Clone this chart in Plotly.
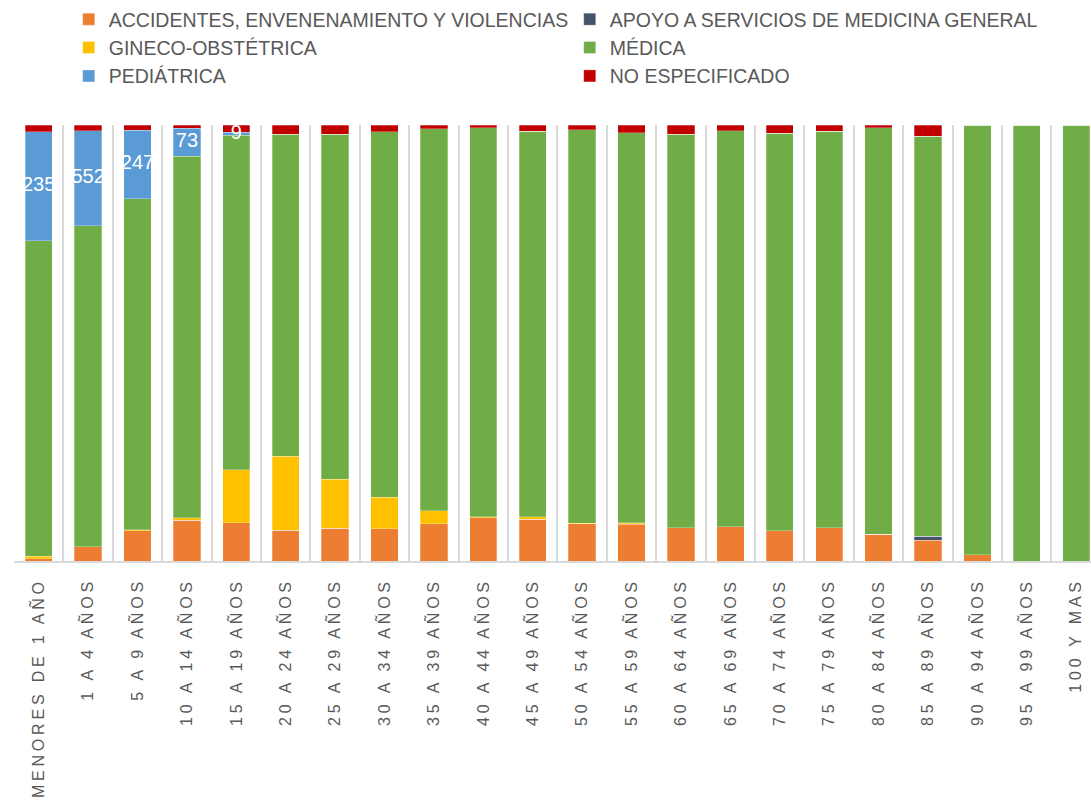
import plotly.graph_objects as go

age_groups = [
    "MENORES DE 1 AÑO", "1 A 4 AÑOS", "5 A 9 AÑOS", "10 A 14 AÑOS", "15 A 19 AÑOS",
    "20 A 24 AÑOS", "25 A 29 AÑOS", "30 A 34 AÑOS", "35 A 39 AÑOS", "40 A 44 AÑOS",
    "45 A 49 AÑOS", "50 A 54 AÑOS", "55 A 59 AÑOS", "60 A 64 AÑOS", "65 A 69 AÑOS",
    "70 A 74 AÑOS", "75 A 79 AÑOS", "80 A 84 AÑOS", "85 A 89 AÑOS", "90 A 94 AÑOS",
    "95 A 99 AÑOS", "100 Y MAS",
]

# shares (%) per age group
accidentes = [0.5, 3.3, 6.9, 9.3, 8.8, 7.0, 7.5, 7.4, 8.5, 9.9, 9.6, 8.5, 8.4, 7.6, 7.8,
              6.9, 7.6, 6.1, 4.8, 1.4, 0, 0]
apoyo = [0, 0, 0, 0, 0, 0, 0, 0, 0, 0, 0, 0, 0.2, 0, 0, 0, 0, 0, 0.9, 0, 0, 0]
gineco = [0.6, 0, 0.3, 0.6, 12.1, 17.0, 11.2, 7.2, 3.0, 0.2, 0.5, 0.2, 0.2, 0, 0,
          0, 0, 0, 0, 0, 0, 0]
pediatrica = [25.1, 21.8, 15.7, 6.5, 0.6, 0, 0, 0, 0, 0, 0, 0, 0, 0, 0, 0, 0, 0, 0, 0, 0, 0]
no_especificado = [1.5, 1.3, 1.2, 0.7, 1.7, 2.1, 2.1, 1.5, 0.9, 0.6, 1.4, 1.1, 1.8, 2.1, 1.3,
                   1.9, 1.4, 0.6, 2.6, 0, 0, 0]
medica = [round(100 - a - b - c - d - e, 1) for a, b, c, d, e in
          zip(accidentes, apoyo, gineco, pediatrica, no_especificado)]
pediatrica_labels = ["235", "552", "247", "73", "9"] + [""] * 17

series = [
    ("ACCIDENTES, ENVENENAMIENTO Y VIOLENCIAS", accidentes, "#ED7D31"),
    ("APOYO A SERVICIOS DE MEDICINA GENERAL", apoyo, "#44546A"),
    ("GINECO-OBSTÉTRICA", gineco, "#FFC000"),
    ("MÉDICA", medica, "#70AD47"),
    ("PEDIÁTRICA", pediatrica, "#5B9BD5"),
    ("NO ESPECIFICADO", no_especificado, "#C00000"),
]

x = list(range(len(age_groups)))
fig = go.Figure()
for name, values, color in series:
    fig.add_trace(go.Bar(
        x=x, y=values, name=name,
        marker=dict(color=color, line=dict(color="rgba(255,255,255,0.35)", width=0.8)),
    ))

# pediatric data labels sit on top of every segment, centred on the blue part
below = [a + b + c + d for a, b, c, d in zip(accidentes, apoyo, gineco, medica)]
fig.add_trace(go.Scatter(
    x=x, y=[lo + p / 2 for lo, p in zip(below, pediatrica)],
    text=pediatrica_labels, mode="text", showlegend=False, hoverinfo="skip",
    textfont=dict(color="white", size=20, family="Liberation Sans"),
))

fig.update_layout(
    barmode="stack",
    bargap=0.447,
    width=1091,
    height=803,
    margin=dict(l=14, r=0, t=125, b=242),
    plot_bgcolor="white",
    paper_bgcolor="white",
    font=dict(family="Liberation Sans", color="#595959"),
    legend=dict(
        orientation="h",
        xref="container", x=0.063, xanchor="left",
        yref="container", y=1.0, yanchor="top",
        entrywidth=456, entrywidthmode="pixels",
        font=dict(size=19.5, color="#595959"),
        traceorder="normal",
    ),
)
fig.update_xaxes(
    range=[-0.5, 21.3],
    tickvals=x,
    ticktext=age_groups,
    tickangle=-90,
    tickfont=dict(size=16, color="#595959"),
    ticks="",
    ticklabelstandoff=9,
    showgrid=False,
    showline=True, linecolor="#D9D9D9", linewidth=1.5,
    zeroline=False,
    minor=dict(tickvals=[i - 0.5 for i in x], showgrid=True,
               gridcolor="#D9D9D9", gridwidth=1.5, ticks=""),
)
fig.update_yaxes(range=[0, 100], showgrid=False, showticklabels=False, zeroline=False)

tweaks = ("document.body.style.margin='0';"
          "document.querySelectorAll('.xtick text').forEach(function(t){"
          "t.setAttribute('letter-spacing','3.8px');});")
fig.write_html("out.html", post_script=tweaks, config={"displayModeBar": False})
